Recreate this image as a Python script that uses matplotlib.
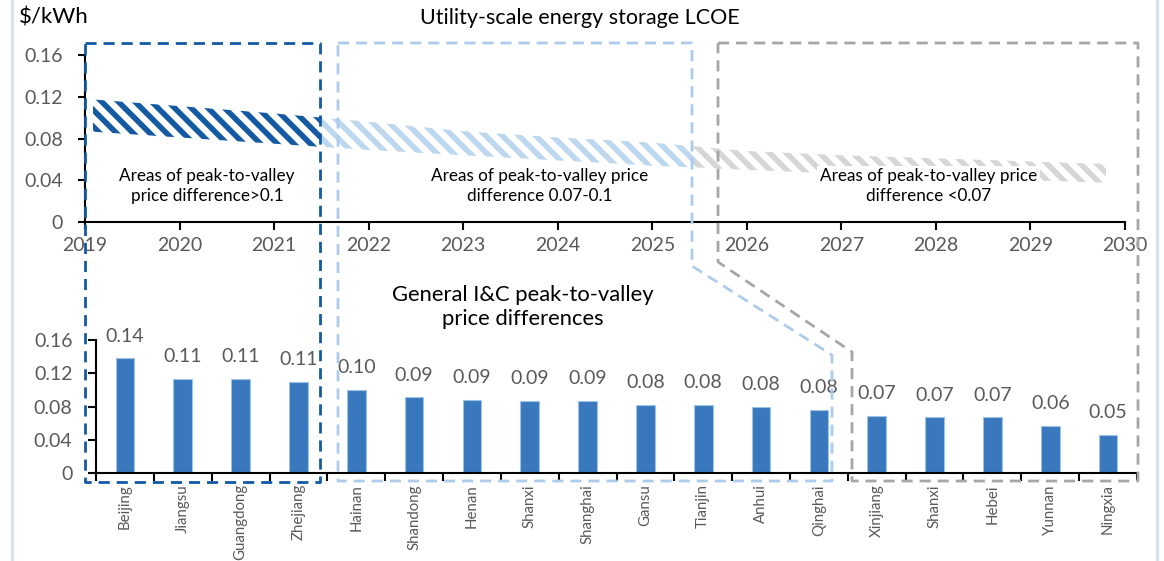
import matplotlib
matplotlib.use("Agg")
import matplotlib.pyplot as plt
from matplotlib.lines import Line2D
from matplotlib.patches import Rectangle
import numpy as np

plt.rcParams['font.family'] = ['Lato', 'DejaVu Sans']
plt.rcParams['hatch.linewidth'] = 4.0

# LCOE band (top chart), $/kWh
years = [2019, 2020, 2021, 2022, 2023, 2024, 2025, 2026, 2027, 2028, 2029, 2030]
lcoe_high = [0.118, 0.111, 0.104, 0.096, 0.087, 0.081, 0.076, 0.068, 0.064, 0.061, 0.058, 0.055]
lcoe_low = [0.087, 0.081, 0.075, 0.069, 0.064, 0.059, 0.054, 0.050, 0.046, 0.043, 0.040, 0.037]

# peak-to-valley price differences (bottom chart)
provinces = ["Beijing", "Jiangsu", "Guangdong", "Zhejiang", "Hainan", "Shandong", "Henan",
             "Shanxi", "Shanghai", "Gansu", "Tianjin", "Anhui", "Qinghai", "Xinjiang",
             "Shanxi", "Hebei", "Yunnan", "Ningxia"]
price_diff = [0.138, 0.113, 0.113, 0.110, 0.100, 0.091, 0.088, 0.087, 0.087, 0.082, 0.082,
              0.080, 0.076, 0.069, 0.067, 0.067, 0.057, 0.046]

zones = ["Areas of peak-to-valley\nprice difference>0.1",
         "Areas of peak-to-valley price\ndifference 0.07-0.1",
         "Areas of peak-to-valley price\ndifference <0.07"]

DARK = "#135AA3"
LIGHT = "#BDD7EE"
LIGHT_LINE = "#AECBEB"
GRAY = "#D6D6D6"
GRAY_LINE = "#A6A6A6"
BAR = "#3A78BD"
TXT = "#595959"

W, H = 1164, 561
fig = plt.figure(figsize=(W / 100, H / 100), dpi=100)

def fx(px):
    return px / W

def fy(py):
    return 1 - py / H

# ---- top chart
ax1 = fig.add_axes([fx(85), fy(222), fx(1125) - fx(85), fy(55) - fy(222)])
ax1.set_xlim(2019, 2030)
ax1.set_ylim(0, 0.16)
segments = [(2019.08, 2021.5, DARK), (2021.5, 2025.45, LIGHT), (2025.45, 2029.8, GRAY)]
for x0, x1, c in segments:
    poly = ax1.fill_between(years, lcoe_low, lcoe_high, facecolor="white", edgecolor=c,
                            hatch="\\\\", linewidth=0)
    clip = Rectangle((x0, 0), x1 - x0, 0.16, transform=ax1.transData)
    poly.set_clip_path(clip)

ax1.set_xticks(years)
ax1.set_yticks([0, 0.04, 0.08, 0.12, 0.16])
ax1.set_yticklabels(["0", "0.04", "0.08", "0.12", "0.16"])
for s in ["top", "right"]:
    ax1.spines[s].set_visible(False)
for s in ["left", "bottom"]:
    ax1.spines[s].set_linewidth(1.5)
ax1.tick_params(axis="both", colors="black", labelcolor=TXT, labelsize=14, width=1.5)
ax1.tick_params(axis="x", length=6, pad=5)
ax1.tick_params(axis="y", length=5, pad=11)

zone_x = [2020.29, 2023.81, 2027.92]
for x, t in zip(zone_x, zones):
    ax1.text(x, 0.0345, t, ha="center", va="center", fontsize=12.3, color="black",
             linespacing=1.25,
             bbox=dict(facecolor="white", edgecolor="none", pad=2))

fig.text(fx(580), fy(18), "Utility-scale energy storage LCOE", ha="center", va="center",
         fontsize=15.5, color="black")
fig.text(fx(19), fy(18), r"\$/kWh", ha="left", va="center", fontsize=16, color="black")

# ---- bottom chart
ax2 = fig.add_axes([fx(96), fy(473), fx(1137) - fx(96), fy(340) - fy(473)])
xs = np.arange(len(provinces))
ax2.bar(xs, price_diff, width=0.32, color=BAR, edgecolor="#9DC3E6", linewidth=0.8)
for x, v in zip(xs, price_diff):
    ax2.annotate(f"{v:.2f}", (x, v), xytext=(0, 16), textcoords="offset points",
                 ha="center", va="center", fontsize=14, color=TXT)
ax2.set_xlim(-0.5, len(provinces) - 0.5)
ax2.set_ylim(0, 0.16)
ax2.set_xticks(xs)
ax2.set_xticklabels(provinces, rotation=90, fontsize=10.8, color=TXT)
ax2.set_xticks(np.arange(len(provinces) + 1) - 0.5, minor=True)
ax2.tick_params(axis="x", which="major", length=0, pad=8)
ax2.tick_params(axis="x", which="minor", length=6, width=1.5)
ax2.set_yticks([0, 0.04, 0.08, 0.12, 0.16])
ax2.set_yticklabels(["0", "0.04", "0.08", "0.12", "0.16"])
ax2.tick_params(axis="y", length=6, width=1.5, pad=11, labelsize=14, labelcolor=TXT)
for s in ["top", "right"]:
    ax2.spines[s].set_visible(False)
for s in ["left", "bottom"]:
    ax2.spines[s].set_linewidth(1.5)

fig.text(fx(523), fy(307), "General I&C peak-to-valley\nprice differences", ha="center",
         va="center", fontsize=15.8, color="black", linespacing=1.2)

# ---- dashed linking boxes (pixel outline in figure space)
boxes = [
    ([(85, 43), (320, 43), (320, 482), (85, 482), (85, 43)], DARK),
    ([(338, 43), (692, 43), (692, 266), (832, 355), (832, 481), (338, 481), (338, 43)], LIGHT_LINE),
    ([(718, 43), (1138, 43), (1138, 481), (852, 481), (852, 352), (718, 262), (718, 43)], GRAY_LINE),
]
for pts, c in boxes:
    px = [fx(p[0]) for p in pts]
    py = [fy(p[1]) for p in pts]
    fig.add_artist(Line2D(px, py, color=c, linewidth=2, linestyle=(0, (4, 2.5)),
                          transform=fig.transFigure, zorder=10))

# light outer frame
for xl in (12, 1157):
    fig.add_artist(Line2D([fx(xl), fx(xl)], [0, 1], color="#DAE3F3", linewidth=2.5,
                          transform=fig.transFigure))

fig.savefig("out.png", dpi=100)
